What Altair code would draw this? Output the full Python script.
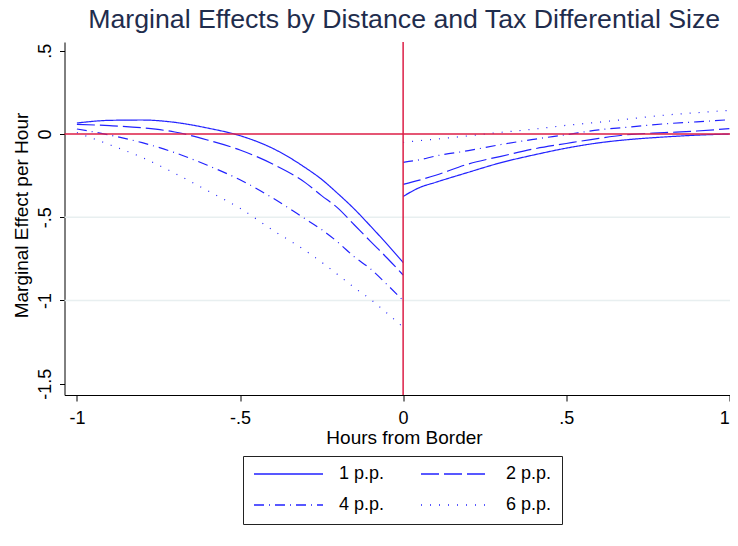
import altair as alt
import pandas as pd

# ---- data ----
series_names = ["1 p.p.", "2 p.p.", "4 p.p.", "6 p.p."]

left_x = [-1.0, -0.9, -0.8, -0.7, -0.6, -0.5, -0.4, -0.3, -0.25, -0.2, -0.15, -0.1, -0.05, 0.0]
left_1pp = [0.066, 0.082, 0.084, 0.070, 0.036, -0.010, -0.086, -0.202, -0.272, -0.358, -0.450, -0.553, -0.660, -0.772]
left_2pp = [0.058, 0.050, 0.037, 0.012, -0.036, -0.096, -0.180, -0.292, -0.370, -0.445, -0.545, -0.645, -0.743, -0.847]
left_4pp = [0.030, -0.006, -0.052, -0.112, -0.188, -0.275, -0.384, -0.510, -0.574, -0.650, -0.737, -0.810, -0.903, -1.000]
left_6pp = [0.008, -0.064, -0.141, -0.236, -0.340, -0.446, -0.577, -0.700, -0.770, -0.845, -0.922, -0.993, -1.075, -1.160]

right_x = [0.0, 0.05, 0.1, 0.2, 0.3, 0.4, 0.5, 0.6, 0.7, 0.8, 0.9, 1.0]
right_1pp = [-0.375, -0.322, -0.290, -0.230, -0.172, -0.126, -0.085, -0.053, -0.032, -0.018, -0.007, 0.000]
right_2pp = [-0.303, -0.277, -0.248, -0.180, -0.134, -0.090, -0.057, -0.026, -0.002, 0.008, 0.018, 0.032]
right_4pp = [-0.170, -0.155, -0.132, -0.100, -0.063, -0.032, -0.004, 0.025, 0.043, 0.061, 0.073, 0.086]
right_6pp = [-0.050, -0.040, -0.031, -0.011, 0.010, 0.029, 0.052, 0.071, 0.092, 0.113, 0.128, 0.142]

x_ticks = [-1, -0.5, 0, 0.5, 1]
y_ticks = [-1.5, -1, -0.5, 0, 0.5]
grid_values = [-0.5, -1.0]
ref_zero = [0]

rows = []
for name, lv, rv in zip(series_names,
                        [left_1pp, left_2pp, left_4pp, left_6pp],
                        [right_1pp, right_2pp, right_4pp, right_6pp]):
    for xv, yv in zip(left_x, lv):
        rows.append({"x": xv, "y": yv, "series": name, "side": "left"})
    for xv, yv in zip(right_x, rv):
        rows.append({"x": xv, "y": yv, "series": name, "side": "right"})
df = pd.DataFrame(rows)

FONT = "Liberation Sans"
BLUE = "#2222ff"
RED = "#dc1e46"

xscale = alt.Scale(domain=[-1.038, 1.002], nice=False, zero=False)
yscale = alt.Scale(domain=[-1.5676, 0.5526], nice=False, zero=False)

x_axis = alt.Axis(
    values=x_ticks,
    labelExpr="datum.value == -1 ? '-1' : datum.value == -0.5 ? '-.5' : datum.value == 0 ? '0' : datum.value == 0.5 ? '.5' : '1'",
    labelOffset={"condition": {"test": "datum.value == 1", "value": -5}, "value": 0},
    title="Hours from Border", grid=False,
    domainColor="black", tickColor="black", tickSize=6,
    labelFont=FONT, labelFontSize=18, labelColor="black", labelPadding=22,
    labelFlush=False, labelOverlap=False, labelBaseline="alphabetic",
    titleFont=FONT, titleFontSize=19, titleFontWeight="normal", titleColor="black",
    titleX=339.5, titleY=48, titleBaseline="alphabetic", titleAlign="center",
)
y_axis = alt.Axis(
    values=y_ticks,
    labelExpr="datum.value == -1.5 ? '-1.5' : datum.value == -1 ? '-1' : datum.value == -0.5 ? '-.5' : datum.value == 0 ? '0' : '.5'",
    title="Marginal Effect per Hour", grid=False,
    domainColor="black", tickColor="black", tickSize=5,
    labelFont=FONT, labelFontSize=18, labelColor="black", labelPadding=9,
    labelAngle=270, labelAlign="center", labelBaseline="alphabetic",
    labelFlush=False, labelOverlap=False,
    titleFont=FONT, titleFontSize=19, titleFontWeight="normal", titleColor="black",
    titleAngle=270, titleX=-37, titleY=173, titleBaseline="alphabetic", titleAlign="center",
)

grid = alt.Chart(pd.DataFrame({"g": grid_values})).mark_rule(
    color="#e8eff0", strokeWidth=1.5
).encode(y=alt.Y("g:Q", scale=yscale, axis=y_axis))

lines = alt.Chart(df).mark_line(color=BLUE, strokeWidth=1.2, interpolate="monotone").encode(
    x=alt.X("x:Q", scale=xscale, axis=x_axis),
    y=alt.Y("y:Q", scale=yscale, axis=y_axis),
    strokeDash=alt.StrokeDash(
        "series:N",
        scale=alt.Scale(domain=series_names, range=[[1, 0], [18, 5], [10, 5, 1, 5], [1, 8]]),
        legend=alt.Legend(
            title=None, orient="none", legendX=178.5, legendY=414,
            columns=2, direction="horizontal",
            symbolType="stroke", symbolSize=4761, symbolStrokeColor=BLUE,
            symbolStrokeWidth=1.5, clipHeight=16,
            labelFont=FONT, labelFontSize=18, labelColor="black", labelOffset=15,
            labelLimit=0, columnPadding=35, rowPadding=13, padding=10,
            strokeColor="#222222", fillColor="white",
        ),
    ),
    detail="side:N",
)

zero_df = pd.DataFrame({"v": ref_zero})
hline = alt.Chart(zero_df).mark_rule(color=RED, strokeWidth=1.5).encode(
    y=alt.Y("v:Q", scale=yscale, axis=y_axis))
vline = alt.Chart(zero_df).mark_rule(color=RED, strokeWidth=1.5).encode(
    x=alt.X("v:Q", scale=xscale, axis=x_axis))

chart = alt.layer(grid, lines, hline, vline).properties(
    width=665.5, height=353,
    title=alt.Title(
        "Marginal Effects by Distance and Tax Differential Size",
        font=FONT, fontSize=26.7, fontWeight="normal", color="#1f2d4d",
        anchor="middle", frame="group", baseline="alphabetic", offset=11, dy=24, dx=7,
    ),
    autosize=alt.AutoSizeParams(type="none"),
    padding={"left": 56.5, "top": 34, "right": 0, "bottom": 130},
    background="white",
).configure_view(stroke=None)

chart.save("out.html", embed_options={"renderer": "svg", "actions": False})
